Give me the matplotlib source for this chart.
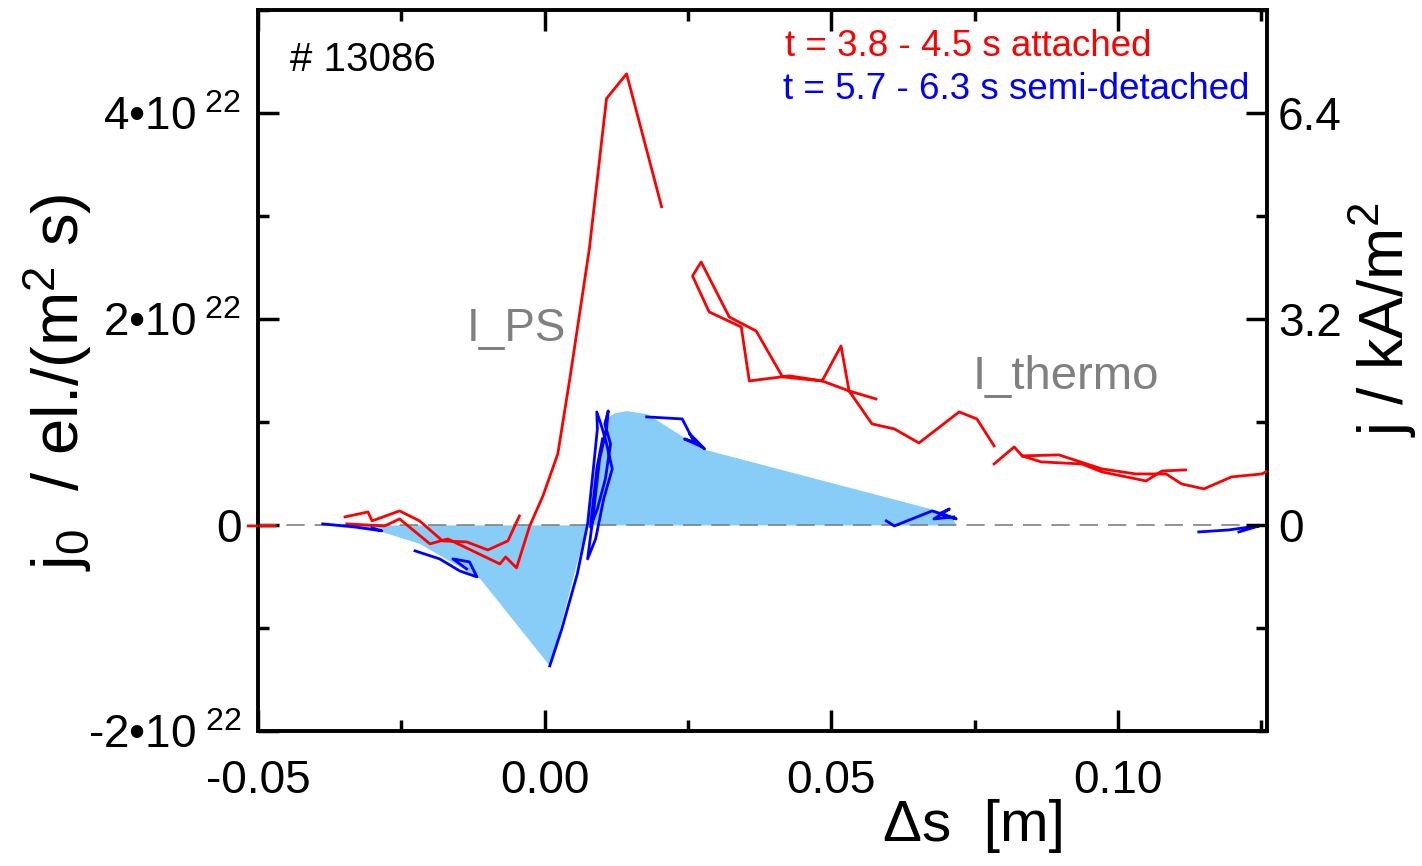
import numpy as np
import matplotlib
matplotlib.use("Agg")
import matplotlib.pyplot as plt
from matplotlib.ticker import MultipleLocator

plt.rcParams["font.family"] = ["Liberation Sans", "DejaVu Sans"]
plt.rcParams["mathtext.fontset"] = "custom"
plt.rcParams["mathtext.rm"] = "Liberation Sans"
plt.rcParams["mathtext.it"] = "Liberation Sans"

nan = np.nan

# attached (red), several passes separated by nan
red_x = [-0.0517, -0.0470, nan,
         -0.0348, -0.0308, -0.0301, -0.0253, -0.0218, -0.0178, -0.0136, -0.0099, -0.0064, -0.0044, nan,
         -0.0345, -0.0279, -0.0253, -0.0200, -0.0169, -0.0078, -0.0068, -0.0049, -0.0026, -0.0003,
         0.0023, 0.0044, 0.0078, 0.0108, 0.0143, 0.0204, nan,
         0.0578, 0.0531, 0.0517, 0.0484, 0.0415, 0.0369, 0.0322, 0.0273, 0.0258, 0.0287, 0.0343,
         0.0357, 0.0427, 0.0484, 0.0531, 0.0571, 0.0610, 0.0653, 0.0723, 0.0754, 0.0784, nan,
         0.0784, 0.0819, 0.0833, 0.0866, 0.0937, 0.0972, 0.1049, 0.1077, 0.1118, nan,
         0.0833, 0.0897, 0.0972, 0.1031, 0.1084, 0.1111, 0.1150, 0.1198, 0.1251, 0.1260]
red_y = [-0.01, -0.01, nan,
         0.078, 0.126, 0.039, 0.136, 0.039, -0.155, -0.165, -0.243, -0.155, 0.087, nan,
         0.01, -0.01, 0.058, -0.184, -0.136, -0.379, -0.311, -0.417, -0.01, 0.28,
         0.69, 1.42, 2.68, 4.14, 4.38, 3.09, nan,
         1.223, 1.301, 1.738, 1.398, 1.437, 1.883, 2.019, 2.553, 2.417, 2.068, 1.922,
         1.398, 1.447, 1.398, 1.301, 0.981, 0.932, 0.796, 1.097, 1.029, 0.767, nan,
         0.592, 0.757, 0.670, 0.612, 0.592, 0.515, 0.427, 0.524, 0.534, nan,
         0.670, 0.680, 0.544, 0.495, 0.495, 0.398, 0.350, 0.466, 0.495, 0.52]

# semi-detached (blue)
blue_x = [-0.0387, -0.0331, -0.0284, -0.0301, nan,
          -0.0226, -0.0183, -0.0148, -0.0118, -0.0131, -0.0160, -0.0136, nan,
          0.0009, 0.0030, 0.0057, 0.0075, 0.0085, 0.0092, 0.0091, 0.0098, 0.0106, 0.0118, 0.0103,
          0.0089, 0.0075, 0.0084, 0.0096, 0.0108, 0.0111, 0.0105, 0.0115, 0.0106, 0.0092, 0.0080,
          0.0091, 0.0101, nan,
          0.0178, 0.0240, 0.0258, 0.0279, 0.0253, 0.0270, 0.0244, 0.0275, nan,
          0.0596, 0.0610, 0.0676, 0.0718, 0.0688, 0.0706, 0.0679, 0.0714, nan,
          0.1141, 0.1193, 0.1219, 0.1246, 0.1211]
blue_y = [0.01, -0.019, -0.058, -0.029, nan,
          -0.252, -0.330, -0.447, -0.505, -0.359, -0.330, -0.427, nan,
          -1.369, -1.010, -0.476, 0.010, 0.544, 0.932, 1.097, 0.981, 0.835, 0.544, 0.252,
          -0.136, -0.330, 0.058, 0.641, 0.932, 1.107, 0.981, 0.786, 0.447, 0.155, -0.019,
          0.544, 0.835, nan,
          1.049, 1.029, 0.835, 0.738, 0.883, 0.786, 0.835, 0.757, nan,
          0.039, -0.010, 0.136, 0.058, 0.107, 0.155, 0.058, 0.078, nan,
          -0.068, -0.049, -0.029, -0.010, -0.068]

# shaded model profile
fill_x = [-0.0387, -0.0287, -0.0218, -0.0113, 0.0009, 0.0073, 0.0105, 0.0122, 0.0143,
          0.0178, 0.0275, 0.0706, 0.0718]
fill_y = [0.0, -0.06, -0.18, -0.52, -1.37, 0.0, 1.03, 1.09, 1.11, 1.08, 0.74, 0.11, 0.0]

scale = 1e22
red_y = np.array(red_y) * scale
blue_y = np.array(blue_y) * scale
fill_y = np.array(fill_y) * scale

fig = plt.figure(figsize=(14.22, 8.66), dpi=100)
ax = fig.add_axes([0.1814, 0.156, 0.7096, 0.8325])

ax.fill_between(fill_x, fill_y, 0, color="#88cdf8", lw=0, zorder=1)
ax.axhline(0, color="gray", lw=1.2, dashes=(11, 6), zorder=2)
ax.plot(red_x, red_y, color="red", lw=2, zorder=3, clip_on=False)
ax.plot(blue_x, blue_y, color="blue", lw=2, zorder=3)

ax.set_xlim(-0.05, 0.126)
ax.set_ylim(-2e22, 5e22)

ax.xaxis.set_minor_locator(MultipleLocator(0.025))
ax.set_xticks([-0.05, 0.0, 0.05, 0.10])
ax.set_xticklabels(["-0.05", "0.00", "0.05", "0.10"])
ax.set_yticks([-2e22, 0, 2e22, 4e22])
ax.set_yticklabels([r"-2•10$^{\ 22}$", "0", r"2•10$^{\ 22}$", r"4•10$^{\ 22}$"])
ax.yaxis.set_minor_locator(MultipleLocator(1e22))

ax.tick_params(which="both", direction="in", top=True, labelsize=33, width=2.5)
ax.tick_params(axis="x", pad=20)
ax.tick_params(axis="y", pad=12)
ax.tick_params(which="major", length=15)
ax.tick_params(which="minor", length=8)
for s in ax.spines.values():
    s.set_linewidth(2.8)

ax2 = ax.twinx()
ax2.set_ylim(-3.2, 8.0)
ax2.set_yticks([0, 3.2, 6.4])
ax2.set_yticklabels(["0", "3.2", "6.4"])
ax2.yaxis.set_minor_locator(MultipleLocator(1.6))
ax2.tick_params(which="both", direction="in", labelsize=33, width=2.5, pad=8)
ax2.tick_params(which="major", length=15)
ax2.tick_params(which="minor", length=8)
ax.tick_params(axis="y", which="both", right=False)

ax.set_ylabel(r"j$_0$  / el./(m$^2$ s)", fontsize=47)
ax.yaxis.set_label_coords(-0.162, 0.483)
ax2.set_ylabel(r"j / kA/m$^2$", fontsize=45)
ax2.yaxis.set_label_coords(1.08, 0.57)
ax.set_xlabel(r"Δs  [m]", fontsize=42)
ax.xaxis.set_label_coords(0.71, -0.095)

ax.text(0.032, 0.93, "# 13086", transform=ax.transAxes, fontsize=29, va="center")
ax.text(0.522, 0.95, "t = 3.8 - 4.5 s attached", transform=ax.transAxes,
        fontsize=26.5, color="red", va="center")
ax.text(0.52, 0.89, "t = 5.7 - 6.3 s semi-detached", transform=ax.transAxes,
        fontsize=26.5, color="blue", va="center")
ax.text(-0.0049, 1.9e22, "I_PS", fontsize=33, color="gray", ha="center", va="center")
ax.text(0.0909, 1.44e22, "I_thermo", fontsize=34, color="gray", ha="center", va="center")

fig.savefig("out.png", dpi=100)
